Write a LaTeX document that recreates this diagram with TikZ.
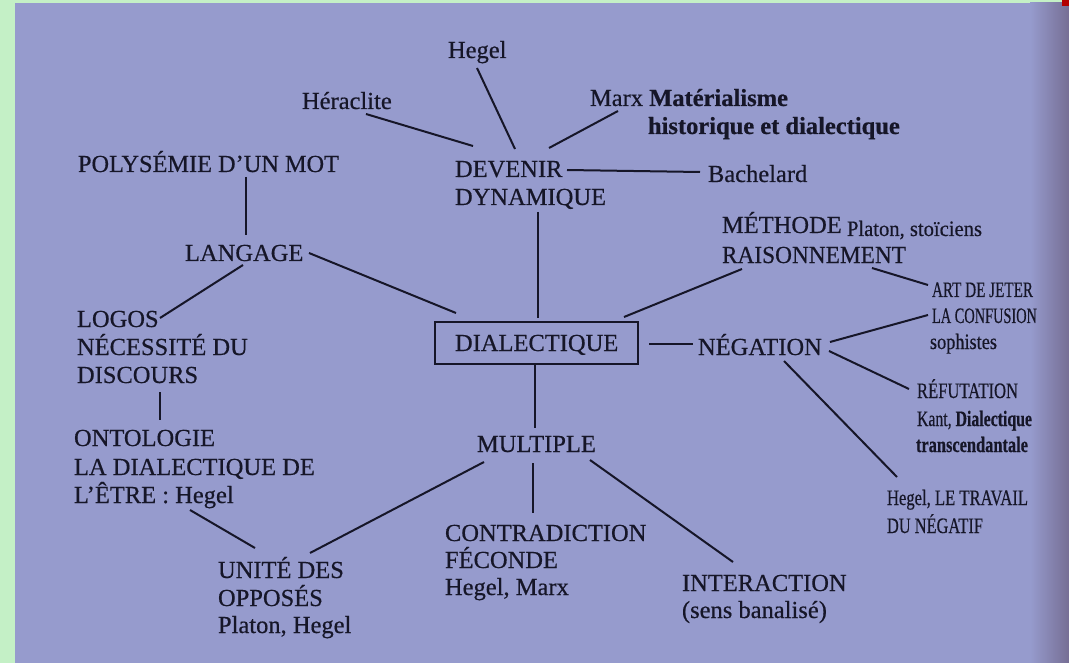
\documentclass[tikz,border=0pt]{standalone}
\usepackage{fontspec}
\setmainfont{Liberation Serif}[UprightFeatures={FakeBold=0.5}, BoldFeatures={FakeBold=0.6}]
\usepackage{graphicx}
\definecolor{page}{RGB}{150,155,205}
\definecolor{frame}{RGB}{196,240,198}
\definecolor{ink}{RGB}{22,22,40}
\definecolor{shade}{RGB}{118,110,148}
\newcommand{\hsq}[2]{\resizebox{#1}{\height}{#2}}
\begin{document}
\begin{tikzpicture}[x=1pt,y=-1pt,
  lbl/.style={anchor=base west, inner sep=0pt, outer sep=0pt, text=ink, font=\fontsize{24.5}{28.5}\selectfont},
  sml/.style={lbl, font=\fontsize{22}{26}\selectfont},
  link/.style={draw=ink, line width=2pt},
]
\useasboundingbox (0,0) rectangle (1069,663);
\fill[frame] (0,0) rectangle (1069,663);
\fill[page] (15,3) rectangle (1069,663);
\shade[left color=page, right color=shade] (1030,3) rectangle (1069,663);
\fill[red!70!black] (1062,0) rectangle (1069,6);

% nodes
\node[lbl] (hegelT) at (448,58) {Hegel};
\node[lbl] (heraclite) at (302,109) {Héraclite};
\node[lbl] (marx) at (590,106) {Marx \textbf{Matérialisme}};
\node[lbl] (hist) at (648,134) {\textbf{historique et dialectique}};
\node[lbl] (devenir) at (455,177) {DEVENIR};
\node[lbl] (dynamique) at (455,205) {DYNAMIQUE};
\node[lbl] (bachelard) at (708,182) {Bachelard};
\node[lbl] (poly) at (78,172) {\hsq{261pt}{POLYSÉMIE D’UN MOT}};
\node[lbl] (langage) at (185,261) {LANGAGE};
\node[lbl] (logos1) at (77,327) {LOGOS};
\node[lbl] (logos2) at (77,355) {NÉCESSITÉ DU};
\node[lbl] (logos3) at (77,383) {DISCOURS};
\node[lbl] (onto1) at (74,446) {ONTOLOGIE};
\node[lbl] (onto2) at (74,475) {LA DIALECTIQUE DE};
\node[lbl] (onto3) at (74,503) {L’ÊTRE : Hegel};
\node[lbl] (unite1) at (218,578) {UNITÉ DES};
\node[lbl] (unite2) at (218,606) {OPPOSÉS};
\node[lbl] (unite3) at (218,633) {Platon, Hegel};
\node[lbl] (multiple) at (477,452) {MULTIPLE};
\node[lbl] (contra1) at (445,541) {CONTRADICTION};
\node[lbl] (contra2) at (445,568) {FÉCONDE};
\node[lbl] (contra3) at (445,595) {Hegel, Marx};
\node[lbl] (inter1) at (682,591) {INTERACTION};
\node[lbl] (inter2) at (682,618) {(sens banalisé)};
\node[lbl, draw=ink, line width=2pt, inner xsep=20pt, inner ysep=12.5pt,
      text height=16.5pt, text depth=0pt] (dial) at (435,351) {DIALECTIQUE};
\node[lbl] (methode) at (722,233) {MÉTHODE};
\node[sml] (platon) at (847,236) {\hsq{135pt}{Platon, stoïciens}};
\node[lbl] (raison) at (722,263) {\hsq{184pt}{RAISONNEMENT}};
\node[lbl] (negation) at (698,355) {NÉGATION};
\node[sml] (art) at (932,297) {\hsq{101pt}{ART DE JETER}};
\node[sml] (conf) at (932,323) {\hsq{105pt}{LA CONFUSION}};
\node[sml] (soph) at (930,349) {\hsq{67pt}{sophistes}};
\node[sml] (refut) at (917,398) {\hsq{101pt}{RÉFUTATION}};
\node[sml] (kant) at (917,426) {\hsq{115pt}{Kant, \textbf{Dialectique}}};
\node[sml] (transc) at (916,452) {\hsq{112pt}{\textbf{transcendantale}}};
\node[sml] (travail) at (887,505) {\hsq{141pt}{Hegel, LE TRAVAIL}};
\node[sml] (negatif) at (887,533) {\hsq{96pt}{DU NÉGATIF}};

% connectors
\draw[link] ([shift={(29,10)}]hegelT.base west) -- ([shift={(60,-28)}]devenir.base west);
\draw[link] ([shift={(64,5)}]heraclite.base west) -- ([shift={(18,-31)}]devenir.base west);
\draw[link] ([shift={(28,5)}]marx.base west) -- ([shift={(94,-29)}]devenir.base west);
\draw[link] ([shift={(112,-7)}]devenir.base west) -- ([shift={(-8,-10)}]bachelard.base west);
\draw[link] ([shift={(83,7)}]dynamique.base west) -- ([shift={(103,-33)}]dial.base west);
\draw[link] ([shift={(168,5)}]poly.base west) -- ([shift={(61,-26)}]langage.base west);
\draw[link] ([shift={(124,-8)}]langage.base west) -- ([shift={(21,-38)}]dial.base west);
\draw[link] ([shift={(58,4)}]langage.base west) -- ([shift={(83,-9)}]logos1.base west);
\draw[link] ([shift={(83,9)}]logos3.base west) -- ([shift={(86,-26)}]onto1.base west);
\draw[link] ([shift={(116,7)}]onto3.base west) -- ([shift={(37,-30)}]unite1.base west);
\draw[link] ([shift={(7,10)}]multiple.base west) -- ([shift={(92,-25)}]unite1.base west);
\draw[link] ([shift={(56,11)}]multiple.base west) -- ([shift={(88,-28)}]contra1.base west);
\draw[link] ([shift={(113,8)}]multiple.base west) -- ([shift={(51,-29)}]inter1.base west);
\draw[link] ([shift={(100,14)}]dial.base west) -- ([shift={(58,-24)}]multiple.base west);
\draw[link] ([shift={(20,6)}]raison.base west) -- ([shift={(189,-34)}]dial.base west);
\draw[link] ([shift={(150,5)}]raison.base west) -- ([shift={(-4,-12)}]art.base west);
\draw[link] ([shift={(214,-7)}]dial.base west) -- ([shift={(-5,-11)}]negation.base west);
\draw[link] ([shift={(132,-13)}]negation.base west) -- ([shift={(-4,-8)}]conf.base west);
\draw[link] ([shift={(131,-4)}]negation.base west) -- ([shift={(-8,-9)}]refut.base west);
\draw[link] ([shift={(86,6)}]negation.base west) -- ([shift={(10,-28)}]travail.base west);
\end{tikzpicture}
\end{document}
